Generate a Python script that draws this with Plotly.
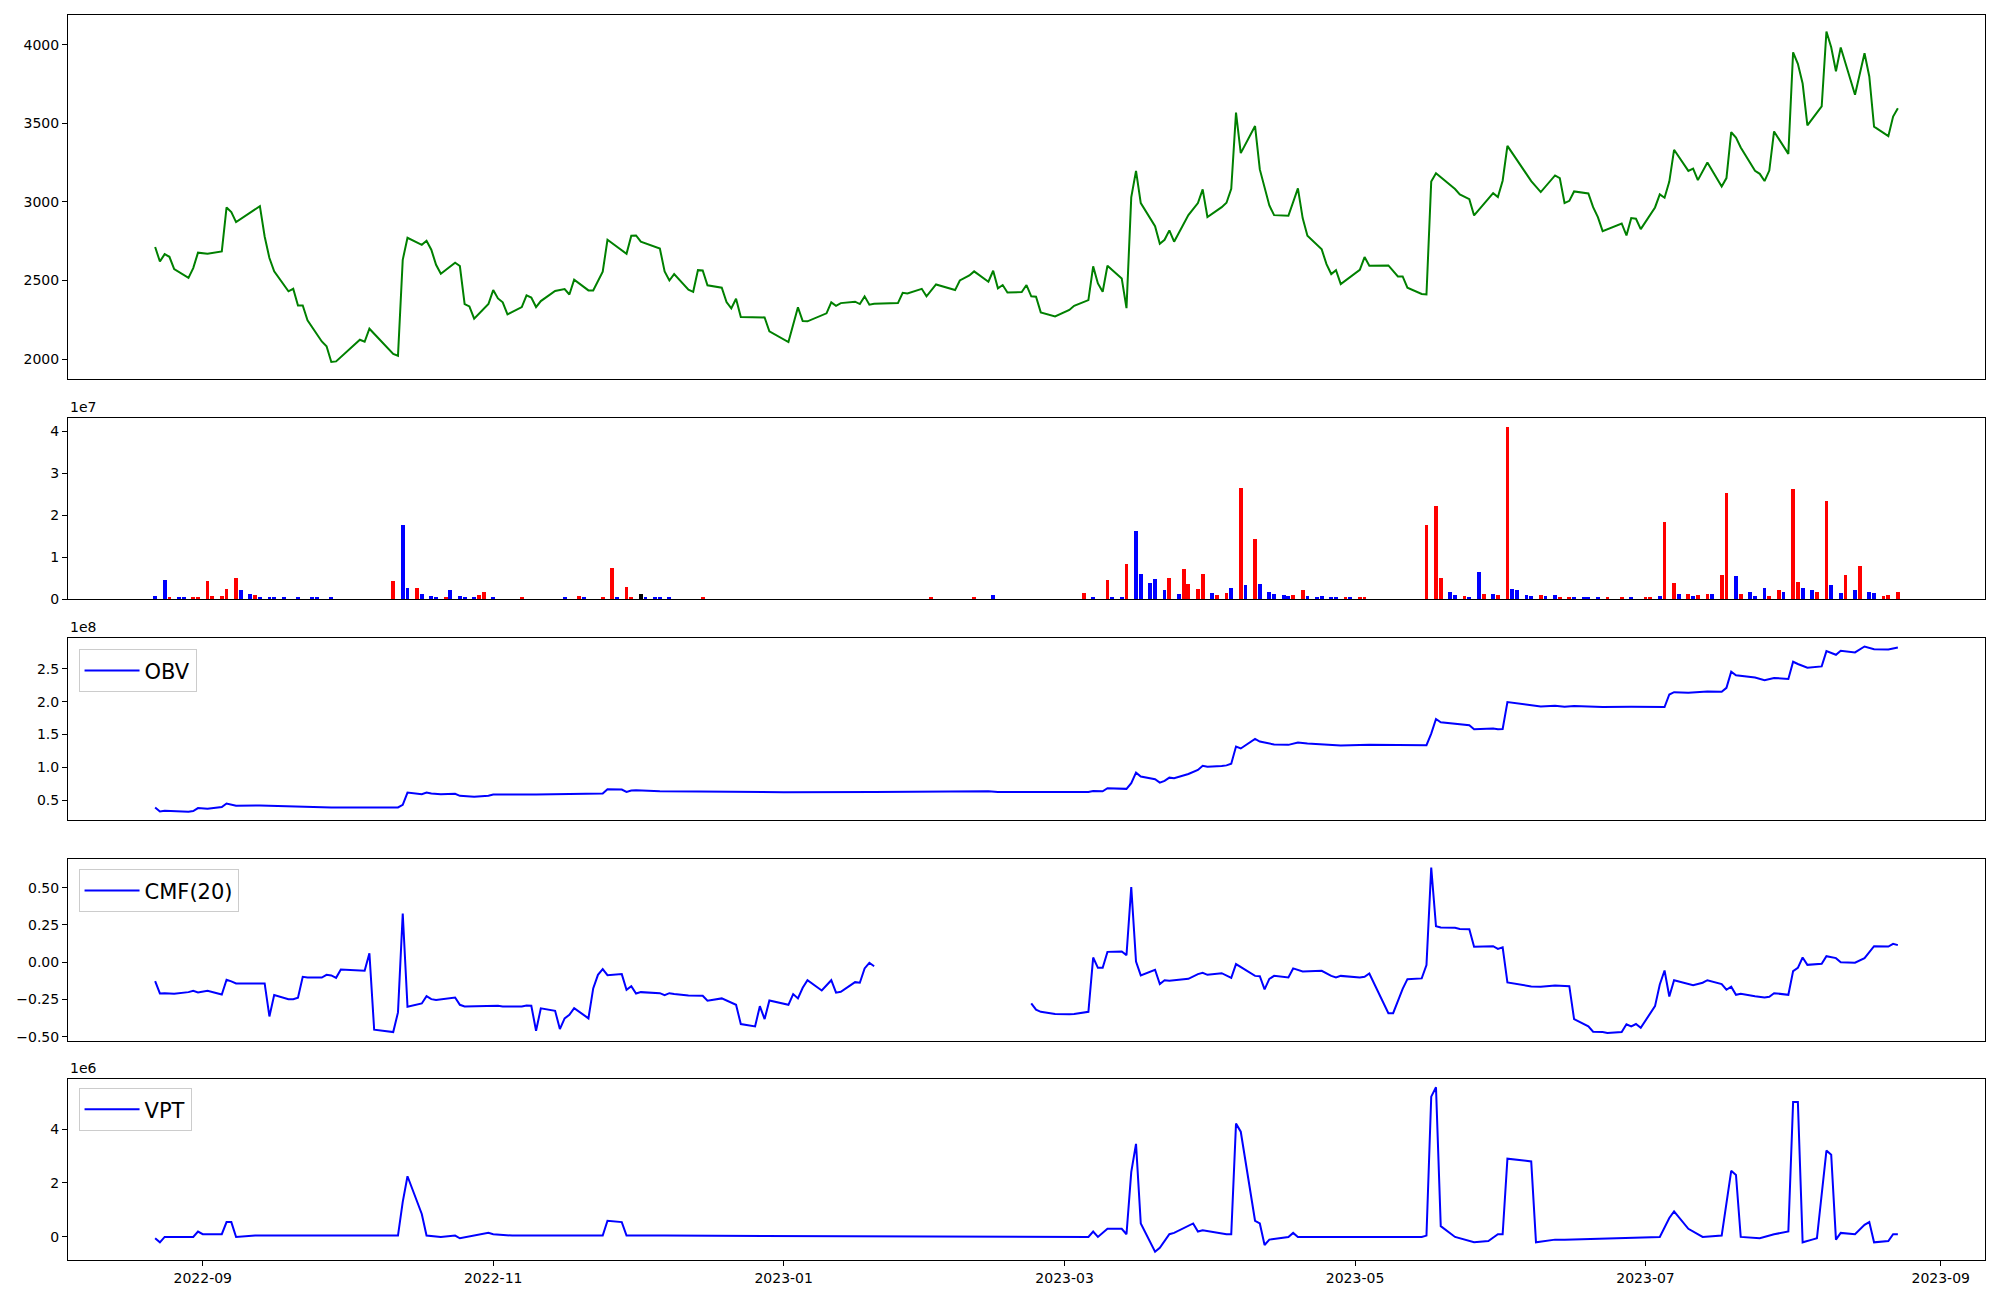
import pandas as pd
import plotly.graph_objects as go

START = "2022-08-22"

# ---------------- price (close) ----------------
price_day = [0, 1, 2, 3, 4, 7, 8, 9, 11, 14, 15, 16, 17, 22, 23, 24, 25, 28, 29, 30, 31, 32, 35, 36, 37, 38,
             43, 44, 45, 50, 51, 52, 53, 56, 57, 58, 59, 60, 63, 64, 65, 66, 67, 70, 71, 72, 73, 74, 77, 78,
             79, 80, 81, 84, 86, 87, 88, 91, 92, 94, 95, 99, 100, 101, 102, 106, 107, 108, 109, 112, 113,
             114, 115, 116, 119, 120, 121, 122, 123, 128, 129, 133, 135, 136, 137, 141, 142, 143, 144, 147,
             148, 149, 150, 151, 156, 157, 158, 161, 162, 164, 168, 169, 171, 172, 175, 176, 177, 178, 179,
             182, 183, 184, 185, 186, 189, 192, 193, 196, 197, 198, 199, 200, 203, 204, 205, 206, 207, 210,
             211, 212, 213, 214, 217, 219, 220, 221, 224, 225, 226, 227, 228, 231, 232, 234, 235, 238, 240,
             241, 242, 245, 246, 247, 248, 249, 253, 254, 255, 259, 261, 262, 263, 266, 267, 268, 269, 273,
             274, 276, 277, 281, 282, 283, 284, 289, 291, 294, 295, 296, 297, 298, 301, 302, 303, 304, 308,
             309, 310, 311, 312, 315, 316, 317, 318, 319, 322, 323, 324, 326, 329, 330, 331, 332, 333, 336,
             337, 338, 339, 340, 343, 344, 345, 346, 347, 350, 351, 352, 353, 354, 357, 359, 360, 361, 364,
             365, 366]
price_val = [2713, 2621, 2668, 2651, 2573, 2517, 2579, 2677, 2670, 2685, 2965, 2935, 2872, 2973, 2780, 2643,
             2558, 2431, 2447, 2341, 2341, 2246, 2112, 2081, 1981, 1985, 2123, 2110, 2193, 2032, 2021, 2632,
             2772, 2727, 2753, 2696, 2600, 2543, 2613, 2592, 2350, 2335, 2257, 2350, 2439, 2386, 2361, 2284,
             2331, 2405, 2392, 2331, 2369, 2433, 2445, 2411, 2505, 2437, 2437, 2556, 2759, 2670, 2785, 2787,
             2747, 2704, 2558, 2500, 2541, 2441, 2428, 2566, 2564, 2469, 2454, 2363, 2322, 2384, 2267, 2265,
             2176, 2108, 2329, 2242, 2240, 2291, 2361, 2339, 2356, 2365, 2350, 2399, 2346, 2352, 2356, 2422,
             2418, 2447, 2399, 2475, 2439, 2500, 2532, 2558, 2492, 2562, 2450, 2471, 2424, 2426, 2471, 2399,
             2397, 2297, 2271, 2312, 2339, 2375, 2590, 2481, 2428, 2594, 2513, 2324, 3029, 3198, 2993, 2846,
             2734, 2759, 2819, 2747, 2916, 2993, 3080, 2904, 2967, 2995, 3084, 3569, 3311, 3483, 3207, 2978,
             2916, 2912, 3086, 2897, 2785, 2698, 2604, 2541, 2566, 2477, 2568, 2649, 2594, 2596, 2526, 2526,
             2454, 2414, 2411, 3130, 3183, 3082, 3048, 3018, 2914, 3056, 3031, 3135, 3357, 3133, 3063, 3169,
             3152, 2993, 3007, 3067, 3054, 2967, 2903, 2814, 2863, 2787, 2897, 2893, 2827, 2965, 3048, 3027,
             3130, 3332, 3198, 3213, 3139, 3251, 3099, 3152, 3444, 3410, 3347, 3198, 3179, 3133, 3200, 3449,
             3306, 3953, 3879, 3754, 3487, 3608, 4085, 3985, 3832, 3983, 3682, 3947, 3799, 3480, 3419, 3544,
             3597]

# ---------------- volume ----------------
vol_day = [0, 2, 3, 5, 6, 8, 9, 11, 12, 14, 15, 17, 18, 20, 21, 22, 24, 25, 27, 30, 33, 34, 37,
           50, 52, 53, 55, 56, 58, 59, 61, 62, 64, 65, 67, 68, 69, 71, 77, 86, 89, 90, 94, 96, 97, 99, 100,
           102, 103, 105, 106, 108, 115,
           163, 172, 176, 195, 197, 200, 201, 203, 204, 206, 207, 209, 210, 212, 213, 215, 216, 217, 219,
           220, 222, 223, 225, 226, 228, 229, 231, 232, 234, 235, 237, 238, 239, 241, 242, 244, 245, 247,
           248, 250, 251, 253, 254,
           267, 269, 270, 272, 273, 275, 276, 278, 279, 281, 282, 284, 285, 286, 288, 289, 291, 292, 294,
           295, 297, 298, 300, 301, 303, 305, 308, 310, 313, 314, 316, 317, 319, 320, 322, 323, 324, 326,
           327, 329, 330, 332, 333, 335, 336, 338, 339, 341, 342, 344, 345, 346, 348, 349, 351, 352, 354,
           355, 357, 358, 360, 361, 363, 364, 366]
vol_mln = [0.8, 4.6, 0.55, 0.3, 0.55, 0.55, 0.55, 4.3, 0.8, 0.8, 2.45, 5.0, 2.0, 1.26, 1.0, 0.55, 0.55,
           0.3, 0.3, 0.3, 0.3, 0.3, 0.3,
           4.3, 17.6, 2.7, 2.7, 1.26, 0.8, 0.55, 0.55, 2.2, 0.8, 0.3, 0.3, 1.0, 1.74, 0.3, 0.3, 0.3, 0.8,
           0.3, 0.3, 7.4, 0.55, 2.9, 0.55, 1.26, 0.3, 0.3, 0.3, 0.3, 0.3,
           0.3, 0.55, 1.0, 1.5, 0.3, 4.6, 0.55, 0.3, 8.4, 16.2, 6.0, 3.9, 4.8, 2.0, 5.0, 1.26, 7.2, 3.6,
           2.45, 6.0, 1.5, 1.0, 1.5, 2.7, 26.4, 3.2, 14.3, 3.6, 1.74, 1.26, 1.0, 0.8, 1.0, 2.2, 0.8, 0.55,
           0.8, 0.55, 0.55, 0.3, 0.3, 0.3, 0.3,
           17.6, 22.1, 5.0, 1.74, 1.0, 0.8, 0.55, 6.5, 1.26, 1.26, 1.0, 41.0, 2.45, 2.2, 1.0, 0.8, 1.0, 0.8,
           1.0, 0.55, 0.55, 0.3, 0.55, 0.55, 0.3, 0.3, 0.3, 0.3, 0.55, 0.55, 0.8, 18.3, 3.9, 1.26, 1.26,
           0.8, 1.0, 1.26, 1.26, 5.8, 25.2, 5.5, 1.26, 1.74, 0.8, 2.7, 0.8, 2.2, 1.74, 26.1, 4.1, 2.7, 2.0,
           1.74, 23.3, 3.4, 1.5, 5.8, 2.0, 7.9, 1.74, 1.5, 0.8, 1.0, 1.74]
vol_dir = ["u", "u", "d", "u", "u", "d", "d", "d", "d", "d", "d", "d", "u", "u", "d", "u", "u", "u", "u",
           "u", "u", "u", "u",
           "d", "u", "u", "d", "u", "u", "u", "d", "u", "u", "u", "u", "d", "d", "u", "d", "u", "d", "u",
           "d", "d", "u", "d", "d", "f", "u", "u", "u", "u", "d",
           "d", "d", "u", "d", "u", "d", "u", "u", "d", "u", "u", "u", "u", "u", "d", "u", "d", "d", "d",
           "d", "u", "d", "d", "u", "d", "u", "d", "u", "u", "u", "u", "u", "d", "d", "u", "u", "u", "u",
           "u", "d", "u", "d", "d",
           "d", "d", "d", "u", "u", "d", "u", "u", "d", "u", "d", "d", "u", "u", "u", "u", "d", "u", "u",
           "d", "d", "u", "u", "u", "u", "d", "d", "u", "d", "d", "u", "d", "d", "u", "d", "u", "d", "d",
           "u", "d", "d", "u", "d", "u", "u", "u", "d", "d", "u", "d", "d", "u", "u", "d", "d", "u", "u",
           "d", "u", "d", "u", "u", "d", "d", "d"]

# ---------------- OBV (x1e8) ----------------
obv_day = [0, 1, 2, 4, 7, 8, 9, 11, 14, 15, 16, 17, 22, 28, 37, 51, 52, 53, 56, 57, 58, 60, 63, 64, 66, 67,
           70, 71, 80, 84, 88, 94, 95, 98, 99, 100, 101, 106, 114, 132, 151, 170, 175, 177, 196, 197, 199,
           200, 204, 205, 206, 207, 210, 211, 212, 213, 214, 217, 219, 220, 221, 224, 225, 226, 227, 228,
           231, 232, 235, 238, 240, 242, 247, 249, 255, 267, 268, 269, 270, 276, 277, 281, 282, 283, 284,
           289, 291, 294, 296, 298, 301, 304, 310, 316, 317, 318, 319, 322, 323, 324, 326, 329, 330, 331,
           332, 336, 338, 340, 343, 344, 345, 347, 350, 351, 353, 354, 357, 359, 361, 364, 366]
obv_e8 = [0.389, 0.328, 0.338, 0.328, 0.323, 0.333, 0.379, 0.369, 0.394, 0.449, 0.429, 0.414, 0.419, 0.404,
          0.389, 0.389, 0.429, 0.616, 0.591, 0.616, 0.601, 0.591, 0.596, 0.566, 0.551, 0.551, 0.566, 0.586,
          0.586, 0.591, 0.601, 0.601, 0.667, 0.662, 0.626, 0.646, 0.651, 0.636, 0.631, 0.621, 0.626, 0.636,
          0.636, 0.626, 0.626, 0.641, 0.636, 0.682, 0.672, 0.758, 0.919, 0.859, 0.818, 0.768, 0.793, 0.843,
          0.833, 0.899, 0.960, 1.025, 1.010, 1.020, 1.030, 1.056, 1.318, 1.288, 1.434, 1.394, 1.348, 1.343,
          1.379, 1.364, 1.338, 1.333, 1.343, 1.338, 1.515, 1.737, 1.687, 1.641, 1.581, 1.591, 1.581, 1.586,
          1.995, 1.944, 1.929, 1.939, 1.924, 1.934, 1.929, 1.919, 1.924, 1.929, 1.919, 2.111, 2.146, 2.136,
          2.141, 2.136, 2.157, 2.152, 2.212, 2.460, 2.404, 2.369, 2.328, 2.364, 2.348, 2.611, 2.576, 2.520,
          2.540, 2.773, 2.717, 2.778, 2.753, 2.843, 2.803, 2.798, 2.828]

# ---------------- CMF(20): two segments (undefined in between) ----------------
cmf_day_a = [0, 1, 2, 4, 7, 8, 9, 11, 14, 15, 16, 17, 23, 24, 25, 28, 29, 30, 31, 32, 35, 36, 37, 38, 39,
             43, 44, 45, 46, 50, 51, 52, 53, 56, 57, 58, 59, 63, 64, 65, 70, 71, 72, 73, 77, 78, 79, 80, 81,
             84, 85, 86, 87, 88, 91, 92, 93, 94, 95, 98, 99, 100, 101, 102, 106, 107, 108, 109, 112, 115,
             116, 119, 122, 123, 126, 127, 128, 129, 133, 134, 135, 136, 137, 140, 142, 143, 144, 147, 148,
             149, 150, 151]
cmf_val_a = [-0.127, -0.210, -0.208, -0.212, -0.201, -0.192, -0.203, -0.192, -0.217, -0.118, -0.129, -0.143,
             -0.143, -0.364, -0.221, -0.248, -0.248, -0.239, -0.098, -0.103, -0.103, -0.085, -0.089, -0.105,
             -0.049, -0.058, -0.058, 0.060, -0.453, -0.469, -0.337, 0.326, -0.299, -0.277, -0.228, -0.248,
             -0.254, -0.237, -0.286, -0.297, -0.292, -0.295, -0.292, -0.297, -0.297, -0.290, -0.292, -0.460,
             -0.310, -0.326, -0.449, -0.377, -0.353, -0.308, -0.377, -0.176, -0.085, -0.047, -0.087, -0.080,
             -0.185, -0.161, -0.210, -0.201, -0.208, -0.221, -0.208, -0.214, -0.223, -0.225, -0.259, -0.243,
             -0.286, -0.415, -0.431, -0.295, -0.382, -0.257, -0.286, -0.214, -0.243, -0.172, -0.121, -0.190,
             -0.121, -0.205, -0.199, -0.134, -0.138, -0.042, -0.004, -0.027]
cmf_day_b = [184, 185, 186, 189, 192, 193, 196, 197, 198, 199, 200, 203, 204, 205, 206, 207, 210, 211, 212,
             213, 217, 219, 220, 221, 224, 226, 227, 231, 232, 233, 234, 235, 238, 239, 241, 245, 247, 248,
             249, 253, 254, 255, 259, 260, 262, 263, 266, 267, 268, 269, 270, 273, 274, 276, 277, 281, 282,
             283, 284, 289, 291, 294, 297, 298, 301, 302, 304, 305, 308, 309, 310, 311, 312, 315, 316, 317,
             318, 319, 323, 325, 326, 329, 330, 331, 332, 333, 336, 338, 339, 340, 343, 344, 345, 346, 347,
             350, 351, 353, 354, 357, 359, 361, 364, 365, 366]
cmf_val_b = [-0.277, -0.319, -0.333, -0.348, -0.350, -0.348, -0.333, 0.031, -0.038, -0.038, 0.069, 0.071,
             0.047, 0.504, 0.004, -0.089, -0.051, -0.147, -0.121, -0.125, -0.112, -0.080, -0.071, -0.085,
             -0.074, -0.105, -0.013, -0.092, -0.094, -0.183, -0.112, -0.092, -0.103, -0.042, -0.063, -0.058,
             -0.092, -0.103, -0.092, -0.103, -0.098, -0.076, -0.342, -0.342, -0.179, -0.114, -0.109, -0.020,
             0.634, 0.241, 0.232, 0.230, 0.223, 0.221, 0.103, 0.107, 0.089, 0.100, -0.136, -0.163, -0.165,
             -0.156, -0.161, -0.382, -0.431, -0.467, -0.469, -0.475, -0.469, -0.417, -0.431, -0.415, -0.440,
             -0.295, -0.150, -0.056, -0.230, -0.121, -0.154, -0.138, -0.121, -0.147, -0.185, -0.165, -0.219,
             -0.212, -0.228, -0.237, -0.232, -0.208, -0.219, -0.060, -0.038, 0.031, -0.018, -0.011, 0.040,
             0.027, 0.000, -0.004, 0.027, 0.107, 0.105, 0.123, 0.114]

# ---------------- VPT (x1e6) ----------------
vpt_day = [0, 1, 2, 8, 9, 10, 14, 15, 16, 17, 21, 34, 51, 52, 53, 56, 57, 60, 63, 64, 67, 70, 71, 75, 94,
           95, 98, 99, 107, 196, 197, 198, 200, 203, 204, 205, 206, 207, 210, 211, 213, 214, 218, 219, 220,
           225, 226, 227, 228, 231, 232, 233, 234, 238, 239, 240, 266, 267, 268, 269, 270, 273, 277, 280,
           282, 283, 284, 289, 290, 294, 296, 313, 316, 318, 319, 322, 325, 329, 331, 332, 333, 337, 340,
           343, 344, 345, 346, 348, 349, 351, 352, 353, 354, 357, 359, 360, 361, 364, 365, 366]
vpt_e6 = [-0.05, -0.2, 0.0, 0.0, 0.2, 0.1, 0.1, 0.55, 0.55, 0.0, 0.05, 0.05, 0.05, 1.3, 2.25, 0.85, 0.05,
          0.0, 0.05, -0.05, 0.05, 0.15, 0.1, 0.05, 0.05, 0.6, 0.55, 0.05, 0.05, 0.0, 0.2, 0.0, 0.3, 0.3,
          0.1, 2.4, 3.45, 0.5, -0.55, -0.4, 0.1, 0.15, 0.5, 0.2, 0.25, 0.1, 0.1, 4.2, 3.9, 0.6, 0.5, -0.3,
          -0.1, 0.0, 0.15, 0.0, 0.0, 0.05, 5.2, 5.55, 0.4, 0.0, -0.2, -0.15, 0.1, 0.1, 2.9, 2.8, -0.2,
          -0.1, -0.1, 0.0, 0.0, 0.7, 0.95, 0.3, 0.0, 0.05, 2.45, 2.3, 0.0, -0.05, 0.1, 0.2, 5.0, 5.0, -0.2,
          -0.1, -0.05, 3.2, 3.05, -0.1, 0.15, 0.1, 0.45, 0.55, -0.2, -0.15, 0.1, 0.1]

assert len(price_day) == len(price_val)
assert len(vol_day) == len(vol_mln) == len(vol_dir)
assert len(obv_day) == len(obv_e8)
assert len(cmf_day_a) == len(cmf_val_a) and len(cmf_day_b) == len(cmf_val_b)
assert len(vpt_day) == len(vpt_e6)

t0 = pd.Timestamp(START)


def dates(days):
    return [t0 + pd.Timedelta(days=int(d)) for d in days]


DIR_COLOR = {"u": "blue", "d": "red", "f": "black"}
FONT = "DejaVu Sans"

fig = go.Figure()
fig.add_trace(go.Scatter(x=dates(price_day), y=price_val, mode="lines",
                         line=dict(color="green", width=2), showlegend=False,
                         xaxis="x", yaxis="y"))
fig.add_trace(go.Bar(x=dates(vol_day), y=[v * 1e6 for v in vol_mln],
                     marker=dict(color=[DIR_COLOR[c] for c in vol_dir], line=dict(width=0)),
                     width=0.8 * 86400000, showlegend=False, xaxis="x2", yaxis="y2"))
fig.add_trace(go.Scatter(x=dates(obv_day), y=[v * 1e8 for v in obv_e8], mode="lines", name="OBV",
                         line=dict(color="blue", width=2), legend="legend",
                         xaxis="x3", yaxis="y3"))
cmf_x = dates(cmf_day_a) + [None] + dates(cmf_day_b)
cmf_y = cmf_val_a + [None] + cmf_val_b
fig.add_trace(go.Scatter(x=cmf_x, y=cmf_y, mode="lines", name="CMF(20)", connectgaps=False,
                         line=dict(color="blue", width=2), legend="legend2",
                         xaxis="x4", yaxis="y4"))
fig.add_trace(go.Scatter(x=dates(vpt_day), y=[v * 1e6 for v in vpt_e6], mode="lines", name="VPT",
                         line=dict(color="blue", width=2), legend="legend3",
                         xaxis="x5", yaxis="y5"))

all_days = price_day + vol_day + obv_day + vpt_day
dmin, dmax = min(all_days), max(all_days)
pad = (dmax - dmin) * 0.05
xr = [t0 + pd.Timedelta(days=dmin - pad), t0 + pd.Timedelta(days=dmax + pad)]

domains = [(0.708, 1.0), (0.5307, 0.676), (0.3534, 0.4994), (0.1757, 0.3218), (0.0, 0.1454)]

axis_common = dict(showline=True, linecolor="black", linewidth=1, mirror=True,
                   showgrid=False, zeroline=False)

layout = dict(
    width=2000, height=1300,
    margin=dict(l=60, r=23, t=7, b=48),
    paper_bgcolor="white", plot_bgcolor="white",
    font=dict(family=FONT, size=14, color="black"),
    bargap=0,
)

for i in range(5):
    xa = "xaxis" if i == 0 else f"xaxis{i + 1}"
    ya = "yaxis" if i == 0 else f"yaxis{i + 1}"
    anchor_y = "y" if i == 0 else f"y{i + 1}"
    anchor_x = "x" if i == 0 else f"x{i + 1}"
    xd = dict(axis_common, domain=[0, 1], anchor=anchor_y, type="date", range=xr)
    if i < 4:
        xd.update(showticklabels=False, ticks="", matches="x5")
    else:
        xd.update(ticks="outside", ticklen=5, tickwidth=1, tickcolor="black",
                  dtick="M2", tick0="2022-09-01", tickformat="%Y-%m",
                  tickfont=dict(family=FONT, size=14))
    layout[xa] = xd
    layout[ya] = dict(axis_common, domain=list(domains[i]), anchor=anchor_x,
                      ticks="outside", ticklen=5, tickwidth=1, tickcolor="black",
                      tickfont=dict(family=FONT, size=14))

p_lo, p_hi = min(price_val), max(price_val)
pp = (p_hi - p_lo) * 0.05
layout["yaxis"].update(range=[p_lo - pp, p_hi + pp], tickvals=[2000, 2500, 3000, 3500, 4000])

v_hi = max(vol_mln) * 1e6
layout["yaxis2"].update(range=[0, v_hi * 1.05], tickvals=[0, 1e7, 2e7, 3e7, 4e7],
                        ticktext=["0", "1", "2", "3", "4"])

o_lo, o_hi = min(obv_e8) * 1e8, max(obv_e8) * 1e8
op = (o_hi - o_lo) * 0.05
layout["yaxis3"].update(range=[o_lo - op, o_hi + op],
                        tickvals=[0.5e8, 1.0e8, 1.5e8, 2.0e8, 2.5e8],
                        ticktext=["0.5", "1.0", "1.5", "2.0", "2.5"])

c_all = cmf_val_a + cmf_val_b
c_lo, c_hi = min(c_all), max(c_all)
cp = (c_hi - c_lo) * 0.05
layout["yaxis4"].update(range=[c_lo - cp, c_hi + cp],
                        tickvals=[-0.5, -0.25, 0.0, 0.25, 0.5],
                        ticktext=["\u22120.50", "\u22120.25", "0.00", "0.25", "0.50"])

vp_lo, vp_hi = min(vpt_e6) * 1e6, max(vpt_e6) * 1e6
vpp = (vp_hi - vp_lo) * 0.05
layout["yaxis5"].update(range=[vp_lo - vpp, vp_hi + vpp], tickvals=[0, 2e6, 4e6],
                        ticktext=["0", "2", "4"])

legend_common = dict(x=0.0055, xanchor="left", yanchor="top", bgcolor="rgba(255,255,255,0.8)",
                     bordercolor="#cccccc", borderwidth=1, font=dict(family=FONT, size=21),
                     itemwidth=55, tracegroupgap=0)
layout["legend"] = dict(legend_common, y=0.4905)
layout["legend2"] = dict(legend_common, y=0.3138)
layout["legend3"] = dict(legend_common, y=0.138)

fig.update_layout(**layout)

for label, dom in [("1e7", domains[1]), ("1e8", domains[2]), ("1e6", domains[4])]:
    fig.add_annotation(text=label, xref="paper", yref="paper", x=0, y=dom[1],
                       xanchor="left", yanchor="bottom", showarrow=False, yshift=1,
                       font=dict(family=FONT, size=14, color="black"))

fig.write_html("out.html")
